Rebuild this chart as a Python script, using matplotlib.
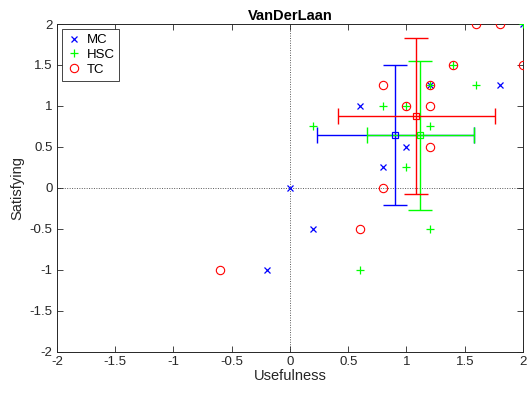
import numpy as np
import matplotlib
matplotlib.use("Agg")
import matplotlib.pyplot as plt

plt.rcParams['font.family'] = ['Liberation Sans', 'DejaVu Sans']

# individual ratings (usefulness, satisfying) per group
mc_x = [0, -0.2, 0.2, 0.6, 0.8, 1.0, 1.2, 1.8, 2.0]
mc_y = [0, -1, -0.5, 1, 0.25, 0.5, 1.25, 1.25, 2.0]
hsc_x = [0.2, 0.6, 0.8, 1.0, 1.0, 1.2, 1.2, 1.2, 1.4, 1.6, 2.0]
hsc_y = [0.75, -1, 1, 1, 0.25, -0.5, 0.75, 1.25, 1.5, 1.25, 2.0]
tc_x = [-0.6, 0.6, 0.8, 0.8, 1.0, 1.2, 1.2, 1.2, 1.4, 1.6, 1.8, 2.0]
tc_y = [-1, -0.5, 0, 1.25, 1, 0.5, 1, 1.25, 1.5, 2, 2, 1.5]

# group means and standard deviations
groups = ["MC", "HSC", "TC"]
mean_x = [0.904, 1.118, 1.086]
mean_y = [0.644, 0.642, 0.873]
std_x = [0.675, 0.461, 0.676]
std_y = [0.86, 0.91, 0.954]

ticks = [-2, -1.5, -1, -0.5, 0, 0.5, 1, 1.5, 2]
tick_labels = ["-2", "-1.5", "-1", "-0.5", "0", "0.5", "1", "1.5", "2"]

colors = [(0, 0, 1), (0, 1, 0), (1, 0, 0)]
markers = ["x", "+", "o"]
msizes = [3.8, 6, 6]

fig = plt.figure(figsize=(5.27, 3.97), dpi=100)
ax = fig.add_axes([0.108, 0.1146, 0.8844, 0.8249])

ax.axhline(0, color="0.35", linestyle=(0, (1, 1.5)), lw=0.7, zorder=1)
ax.axvline(0, color="0.35", linestyle=(0, (1, 1.5)), lw=0.7, zorder=1)

pts = [(mc_x, mc_y), (hsc_x, hsc_y), (tc_x, tc_y)]
for (px, py), c, m, ms, name in zip(pts, colors, markers, msizes, groups):
    if m == "o":
        ax.plot(px, py, linestyle="none", marker=m, ms=ms, mfc="none", mec=c,
                mew=0.8, label=name, zorder=3)
    else:
        ax.plot(px, py, linestyle="none", marker=m, ms=ms, color=c,
                mew=0.9, label=name, zorder=3)

for i, c in enumerate(colors):
    ax.errorbar(mean_x[i], mean_y[i], xerr=std_x[i], color=c, lw=1.0,
                capsize=6.1, capthick=1.0, fmt="none", zorder=4)
    ax.errorbar(mean_x[i], mean_y[i], yerr=std_y[i], color=c, lw=1.0,
                capsize=8.3, capthick=1.0, fmt="none", zorder=4)
    ax.plot(mean_x[i], mean_y[i], marker="s", ms=4.5, mfc="none", mec=c,
            mew=0.9, zorder=5)

ax.set_xlim(-2, 2)
ax.set_ylim(-2, 2)
ax.set_xticks(ticks)
ax.set_xticklabels(tick_labels)
ax.set_yticks(ticks)
ax.set_yticklabels(tick_labels)
ax.tick_params(direction="in", length=4, width=0.6, top=True, right=True,
               labelsize=9.5, colors="0.15", pad=3)
for s in ax.spines.values():
    s.set_color("0.15")
    s.set_linewidth(0.7)

ax.set_title("VanDerLaan", fontsize=10.5, fontweight="bold", pad=3)
ax.set_xlabel("Usefulness", fontsize=10.5, color="0.15", labelpad=1)
ax.set_ylabel("Satisfying", fontsize=10.5, color="0.15", labelpad=4)

leg = ax.legend(loc="upper left", fontsize=9.5, fancybox=False, framealpha=1,
                edgecolor="0.15", borderaxespad=0.4, handlelength=1.1,
                handletextpad=0.4, borderpad=0.35, labelspacing=0.2)
leg.get_frame().set_linewidth(0.6)

fig.savefig("out.png", dpi=100)
